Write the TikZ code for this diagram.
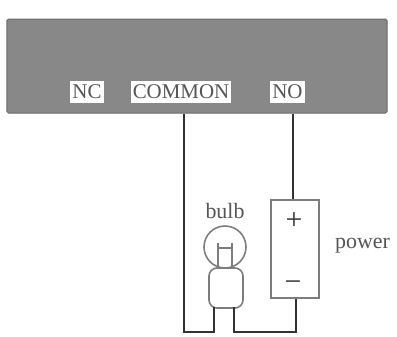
\documentclass[tikz,border=0pt]{standalone}
\usepackage{fontspec}
\setmainfont{Liberation Serif}
\definecolor{panel}{RGB}{136,136,136}
\definecolor{paneledge}{RGB}{105,105,105}
\definecolor{wire}{RGB}{50,50,50}
\definecolor{part}{RGB}{125,125,125}
\definecolor{txt}{RGB}{85,85,85}
\tikzset{
  wireline/.style={draw=wire,line width=1.9pt},
  partline/.style={draw=part,line width=1.6pt},
  portlabel/.style={fill=white,text=txt,inner sep=0pt,font=\fontsize{21}{21}\selectfont,anchor=center},
  caption/.style={text=txt,inner sep=0pt,font=\fontsize{22}{22}\selectfont,anchor=center}
}
\begin{document}
\begin{tikzpicture}[x=1bp,y=-1bp]
\useasboundingbox (0,0) rectangle (397,337);
\node[draw=paneledge,fill=panel,line width=1pt,rounded corners=1.5pt,minimum width=380bp,minimum height=94bp,inner sep=0pt] (relay) at (197,66) {};
\node[portlabel,minimum width=34bp,minimum height=22bp] (nc) at (87,92) {NC};
\node[portlabel,minimum width=100bp,minimum height=22bp] (common) at (181,92) {COMMON};
\node[portlabel,minimum width=35bp,minimum height=22bp] (no) at (287.5,92) {NO};
\node[draw=part,line width=1.6pt,fill=white,minimum width=48bp,minimum height=98bp,inner sep=0pt] (power) at (295,249) {};
\node[caption,text=wire,font=\fontsize{30}{30}\selectfont] (plus) at (294,221) {+};
\node[caption,text=wire,font=\fontsize{30}{30}\selectfont] (minus) at (293,286) {−};
\node[caption] (bulblabel) at (225,211) {bulb};
\node[caption] (powerlabel) at (362.5,246) {power};
\node[draw=part,line width=1.6pt,circle,minimum size=42bp,inner sep=0pt] (globe) at (225,247) {};
\node[draw=part,fill=white,line width=1.6pt,rounded corners=8bp,minimum width=34bp,minimum height=40bp,inner sep=0pt] (base) at (226,288) {};
\coordinate (fl) at (218,268);
\coordinate (fr) at (232,268);
\coordinate (flt) at (218,243);
\coordinate (frt) at (232,243);
\coordinate (fcl) at (218,248);
\coordinate (fcr) at (232,248);
\draw[partline] (fl) -- (flt) (fr) -- (frt) (fcl) -- (fcr);
\coordinate (bl) at (214,307);
\coordinate (br) at (234,307);
\draw[wireline] (relay.south -| 184,0) -- (184,332) -- (214,332) -- (bl);
\draw[wireline] (br) -- (234,332) -- (296,332) -- (power.south -| 296,0);
\draw[wireline] (relay.south -| 293,0) -- (power.north -| 293,0);
\end{tikzpicture}
\end{document}
